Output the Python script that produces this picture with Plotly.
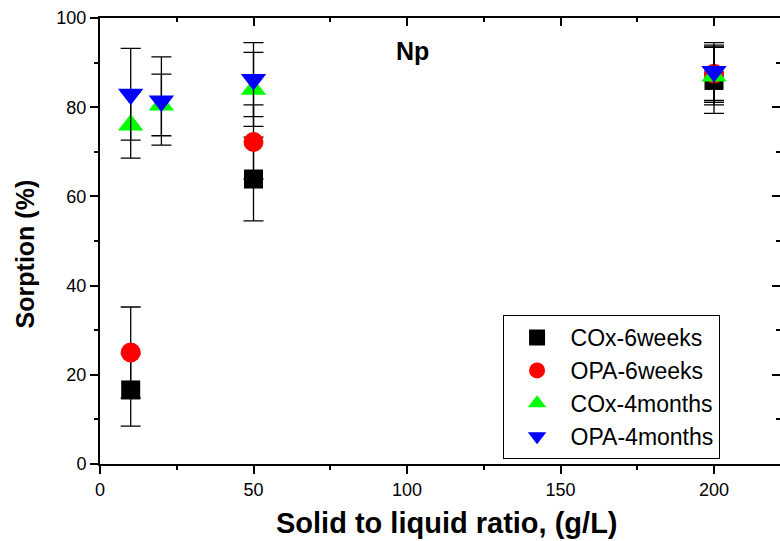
import plotly.graph_objects as go

# Data
x_cox6w = [10, 50, 200]
y_cox6w = [16.6, 63.9, 86.0]
e_cox6w = [8.1, 9.4, 7.4]

x_opa6w = [10, 50, 200]
y_opa6w = [25.0, 72.2, 87.5]
e_opa6w = [10.2, 8.3, 6.4]

x_cox4m = [10, 20, 50, 200]
y_cox4m = [76.0, 80.5, 84.0, 87.0]
e_cox4m = [7.4, 6.9, 8.3, 6.5]

x_opa4m = [10, 20, 50, 200]
y_opa4m = [82.9, 81.4, 86.2, 88.0]
e_opa4m = [10.3, 9.9, 8.3, 6.5]

names = ["COx-6weeks", "OPA-6weeks", "COx-4months", "OPA-4months"]
x_ticks = [0, 50, 100, 150, 200]
y_ticks = [0, 20, 40, 60, 80, 100]

FONT = "Liberation Sans, Arial, sans-serif"

fig = go.Figure()

def add(xs, ys, es, name, symbol, color, size):
    fig.add_trace(go.Scatter(
        x=xs, y=ys, mode="markers", name=name,
        marker=dict(symbol=symbol, color=color, size=size, line=dict(width=0)),
        error_y=dict(type="data", array=es, visible=True, color="black",
                     thickness=1.3, width=10),
    ))

add(x_cox6w, y_cox6w, e_cox6w, names[0], "square", "black", 19)
add(x_opa6w, y_opa6w, e_opa6w, names[1], "circle", "#ff0000", 20)
add(x_cox4m, y_cox4m, e_cox4m, names[2], "triangle-up", "#00ff00", 22)
add(x_opa4m, y_opa4m, e_opa4m, names[3], "triangle-down", "#0000ff", 22)

# invisible trace for mirrored axes
fig.add_trace(go.Scatter(x=[0], y=[0], xaxis="x2", yaxis="y2", mode="markers",
                         marker=dict(opacity=0), showlegend=False, hoverinfo="skip"))

xr = [0, 221.5]
yr = [0, 100]

fig.update_layout(
    width=780, height=541,
    margin=dict(l=100, r=0, t=18, b=77),
    paper_bgcolor="white", plot_bgcolor="white",
    font=dict(family=FONT, color="black"),
    showlegend=True,
    legend=dict(
        x=0.592, y=0.334, xanchor="left", yanchor="top",
        bordercolor="black", borderwidth=1, bgcolor="white",
        font=dict(size=23, family=FONT),
        tracegroupgap=0, itemwidth=57,
    ),
    xaxis=dict(
        range=xr, tickvals=x_ticks, ticktext=[str(v) for v in x_ticks],
        ticks="outside", ticklen=8, tickwidth=1.5, tickcolor="black",
        minor=dict(dtick=25, tick0=0, ticks="outside", ticklen=4, tickwidth=1.5, tickcolor="black"),
        showline=True, linecolor="black", linewidth=2, showgrid=False, zeroline=False,
        tickfont=dict(size=18, family=FONT),
    ),
    yaxis=dict(
        range=yr, tickvals=y_ticks, ticktext=[str(v) for v in y_ticks],
        ticks="outside", ticklen=8, tickwidth=1.5, tickcolor="black",
        minor=dict(dtick=10, tick0=0, ticks="outside", ticklen=4, tickwidth=1.5, tickcolor="black"),
        showline=True, linecolor="black", linewidth=2, showgrid=False, zeroline=False,
        tickfont=dict(size=18, family=FONT),
    ),
    xaxis2=dict(
        range=xr, overlaying="x", side="top", anchor="y2",
        tickvals=x_ticks, ticks="inside", ticklen=8, tickwidth=1.5, tickcolor="black",
        minor=dict(dtick=25, tick0=0, ticks="inside", ticklen=4, tickwidth=1.5, tickcolor="black"),
        showticklabels=False, showline=True, linecolor="black", linewidth=2,
        showgrid=False, zeroline=False,
    ),
    yaxis2=dict(
        range=yr, overlaying="y", side="right", anchor="x2",
        tickvals=y_ticks, ticks="inside", ticklen=8, tickwidth=1.5, tickcolor="black",
        minor=dict(dtick=10, tick0=0, ticks="inside", ticklen=4, tickwidth=1.5, tickcolor="black"),
        showticklabels=False, showline=True, linecolor="black", linewidth=2,
        showgrid=False, zeroline=False,
    ),
    annotations=[
        dict(text="<b>Np</b>", x=0.459, y=0.925, xref="paper", yref="paper",
             showarrow=False, font=dict(size=25, family=FONT), xanchor="center", yanchor="middle"),
        dict(text="<b>Solid to liquid ratio, (g/L)</b>", x=0.511, y=-0.132, xref="paper", yref="paper",
             showarrow=False, font=dict(size=29, family=FONT), xanchor="center", yanchor="middle"),
        dict(text="<b>Sorption (%)</b>", x=0, xshift=-75, y=0.47, xref="paper", yref="paper",
             textangle=-90, showarrow=False, font=dict(size=25, family=FONT),
             xanchor="center", yanchor="middle"),
    ],
)

fig.write_html("out.html")
